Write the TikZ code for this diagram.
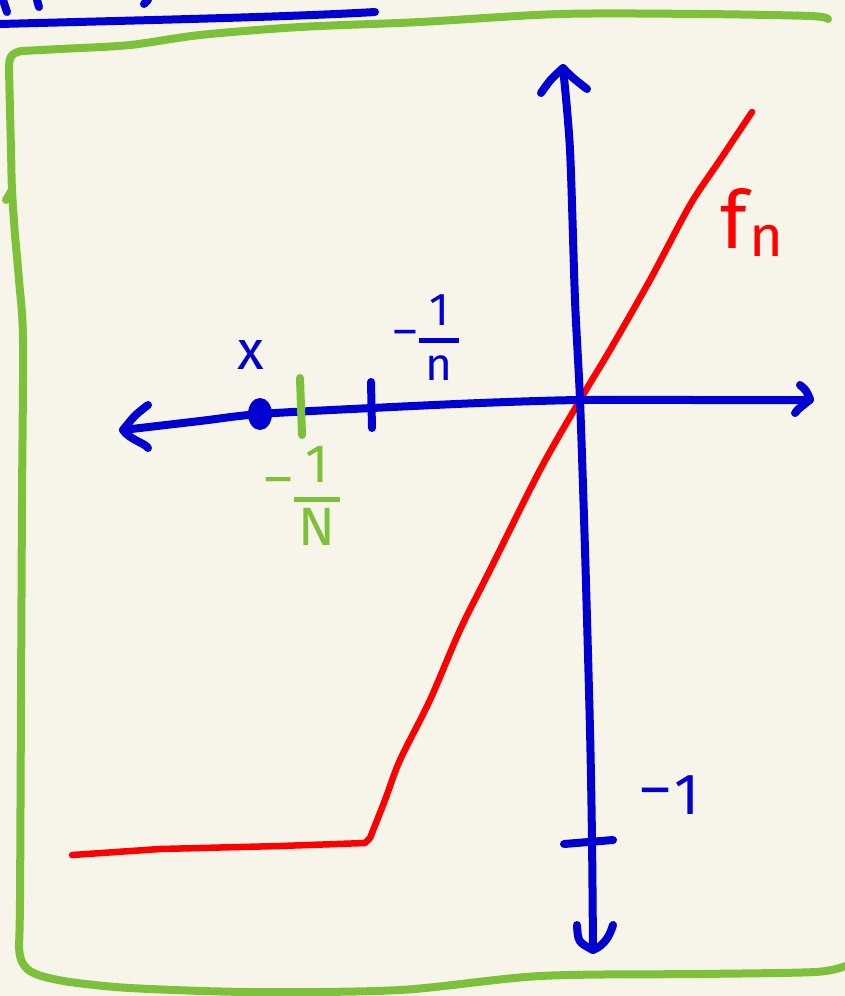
\documentclass[tikz,border=0pt]{standalone}
\usepackage{fontspec}
\setmainfont{Fira Sans}
\usetikzlibrary{calc}
\definecolor{bg}{RGB}{247,245,234}
\definecolor{pen}{RGB}{0,0,210}
\definecolor{grn}{RGB}{125,192,58}
\definecolor{rd}{RGB}{255,0,0}
\tikzset{
  stroke/.style={line width=8pt,line cap=round,line join=round},
  bluepen/.style={stroke,draw=pen},
  greenpen/.style={stroke,draw=grn},
  redpen/.style={stroke,draw=rd,line width=6.5pt},
  lbl/.style={inner sep=0pt,outer sep=0pt},
}
\newcommand{\hfrac}[2]{\setlength{\arrayrulewidth}{5pt}\renewcommand{\arraystretch}{0.9}\begin{tabular}[b]{@{}c@{}}\makebox[0.85em]{#1}\\\hline\rule{0pt}{0.8em}#2\end{tabular}}
\begin{document}
\begin{tikzpicture}[x=1pt,y=-1pt]
\fill[bg] (0,0) rectangle (845,996);
\useasboundingbox (0,0) rectangle (845,996);
% top fragments
\draw[bluepen] (0,24) .. controls (150,20) and (290,17) .. (375,12);
\draw[bluepen] (3,0) -- (7,12);
\draw[bluepen] (37,0) -- (39,7);
\draw[bluepen] (148,0) -- (144,4);
% green frame
\draw[greenpen] plot[smooth,tension=0.5] coordinates {
 (828,19) (810,16) (700,14) (560,14) (420,22) (300,27) (200,35) (130,45) (60,49) (22,51)}
 .. controls (10,53) and (9,58) .. (9,70)
 plot[smooth,tension=0.5] coordinates {(9,70) (11,150) (12,190) (15,235) (19,280) (23,340) (22,500) (21,700) (20,900) (19,945)}
 .. controls (19,968) and (30,973) .. (45,977)
 plot[smooth,tension=0.5] coordinates {(45,977) (70,982) (130,988) (250,992) (400,990) (540,976) (700,974) (815,972) (845,966)};
\draw[greenpen] (12,190) -- (6,200);
% red curve
\draw[redpen] plot[smooth,tension=0.5] coordinates {
 (752,112) (720,160) (690,205) (650,280) (610,350) (580,400) (540,470) (490,570) (460,630) (430,700) (400,760) (385,800) (370,838)}
 -- (365,843) -- (280,846) -- (160,849) -- (72,855);
% horizontal axis
\draw[bluepen] plot[smooth,tension=0.5] coordinates {
 (123,430) (200,421) (260,414) (372,408) (480,403) (580,400) (700,400) (810,400)};
\draw[bluepen] (148,405) .. controls (135,415) .. (123,430) .. controls (130,440) and (145,443) .. (148,448);
\draw[bluepen] (800,385) .. controls (806,390) .. (810,399) .. controls (805,405) and (798,408) .. (795,413);
% vertical axis
\draw[bluepen] plot[smooth,tension=0.5] coordinates {
 (563,68) (570,150) (575,300) (580,400) (585,550) (590,730) (592,840) (593,950)};
\draw[bluepen] (541,93) .. controls (550,80) .. (563,68) .. controls (572,78) and (582,85) .. (587,89);
\draw[bluepen] (577,925) .. controls (578,942) .. (593,950) .. controls (605,945) and (610,935) .. (613,925);
% ticks
\draw[bluepen] (371,382) -- (372,428);
\draw[greenpen] (300,378) -- (302,435);
\draw[bluepen] (564,844) -- (613,840);
% point x
\fill[pen] (260,414) ellipse [x radius=12, y radius=16];
% labels
\node[lbl,text=pen,font=\fontsize{55}{55}\selectfont] (xlbl) at (251,355) {x};
\node[lbl,text=pen,font=\fontsize{46}{46}\selectfont,anchor=base] (nlbl) at (426,380) {\raisebox{0.72em}{–}\kern2pt\hfrac{1}{n}};
\node[lbl,text=grn,font=\fontsize{54}{54}\selectfont,anchor=base] (Nlbl) at (302,545) {\raisebox{0.9em}{–}\kern2pt\hfrac{1}{N}};
\node[lbl,text=rd,font=\fontsize{58}{58}\selectfont] (fn) at (752,222) {{\fontsize{80}{80}\selectfont f}\kern2pt\raisebox{-8pt}{n}};
\node[lbl,text=pen,font=\fontsize{58}{58}\selectfont] (m1) at (670,795) {\raisebox{0.1em}{–}\kern4pt1};
\end{tikzpicture}
\end{document}
